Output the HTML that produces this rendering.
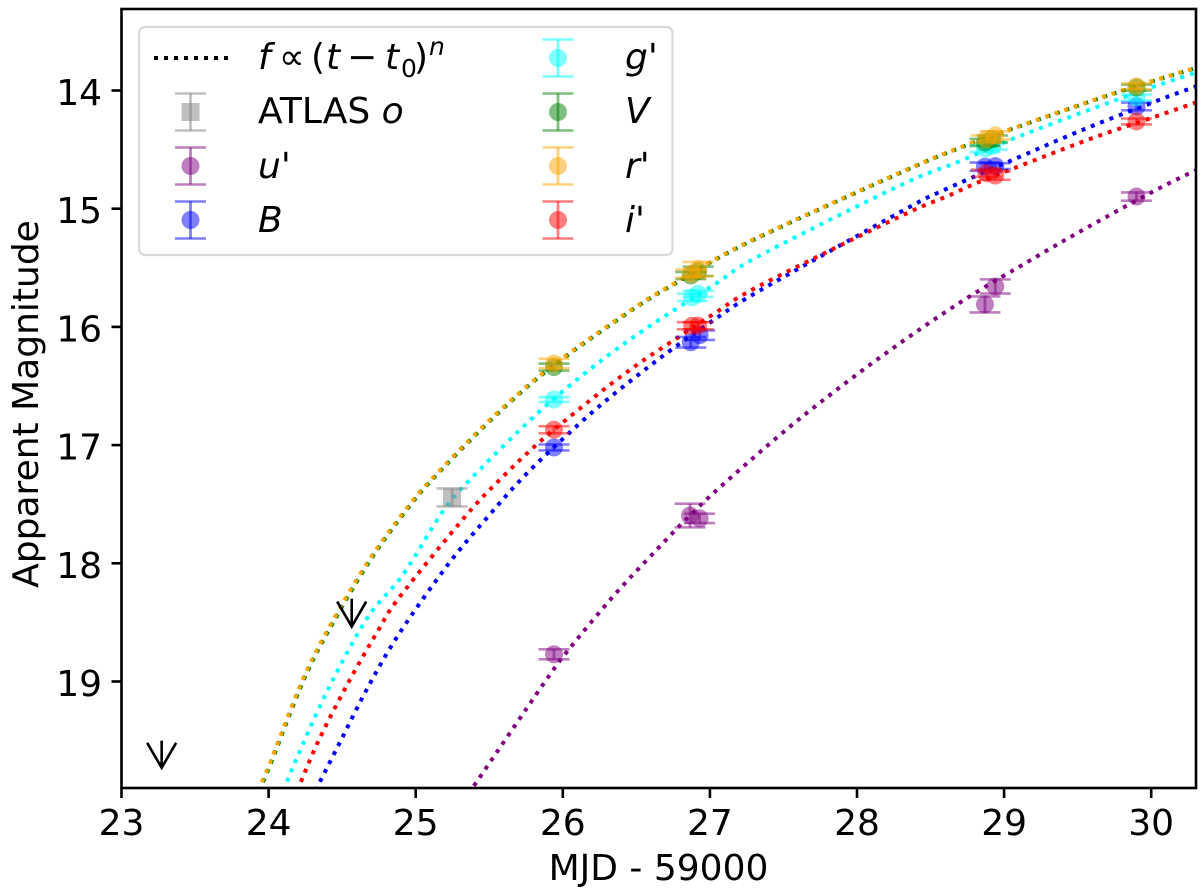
<!DOCTYPE html>
<html>
<head>
<meta charset="utf-8">
<title>Light curve</title>
<style>
html,body{margin:0;padding:0;background:#fff;}
svg{display:block;}
text{font-family:"DejaVu Sans","Liberation Sans",sans-serif;fill:#000;}
</style>
</head>
<body>
<svg id="chart" xmlns="http://www.w3.org/2000/svg" width="1200" height="893" viewBox="0 0 1200 893">
  <defs><clipPath id="plot-clip"><rect x="121.5" y="9" width="1074.5" height="779"/></clipPath></defs>
  <rect x="0" y="0" width="1200" height="893" fill="#fff"/>
  <g id="curves" clip-path="url(#plot-clip)"></g>
  <g id="points"></g>
  <g id="limits"></g>
  <g id="ticks"></g>
  <rect x="121.5" y="9" width="1074.5" height="779" fill="none" stroke="#000" stroke-width="2.6"/>
  <text x="658.5" y="880" font-size="36" text-anchor="middle">MJD - 59000</text>
  <text transform="translate(38,404) rotate(-90)" font-size="36" text-anchor="middle">Apparent Magnitude</text>
  <g>
    <rect x="139" y="27" width="533.5" height="228" rx="6" ry="6" fill="#fff" fill-opacity="0.8" stroke="#d9d9d9" stroke-width="2.2"/>
    <g id="legend-handles"></g>
    <text y="69" font-size="36"><tspan x="258" font-style="italic">f</tspan><tspan x="279">∝</tspan><tspan x="311">(</tspan><tspan x="326" font-style="italic">t</tspan><tspan x="347">−</tspan><tspan x="385" font-style="italic">t</tspan><tspan x="401" y="77" font-size="25">0</tspan><tspan x="414" y="69">)</tspan><tspan x="429" y="55" font-size="25" font-style="italic">n</tspan></text>
    <text x="258" y="123" font-size="36">ATLAS <tspan font-style="italic">o</tspan></text>
    <text x="258" y="178" font-size="36" font-style="italic">u'</text>
    <text x="258" y="232" font-size="36" font-style="italic">B</text>
    <text x="625" y="69" font-size="36" font-style="italic">g'</text>
    <text x="625" y="123" font-size="36" font-style="italic">V</text>
    <text x="625" y="178" font-size="36" font-style="italic">r'</text>
    <text x="625" y="232" font-size="36" font-style="italic">i'</text>
  </g>
</svg>
<script>
// Tick labels
const xTicks = [23, 24, 25, 26, 27, 28, 29, 30];
const yTicks = [14, 15, 16, 17, 18, 19];

// Fit curves (MJD-59000, magnitude)
const fitUT = [25.32, 25.383, 25.866, 26.035, 26.348, 26.640, 26.885, 27.150, 27.612, 28.156, 28.70, 29.210, 29.577, 30.012, 30.271, 30.35];
const fitUM = [20.0, 19.905, 19.025, 18.738, 18.272, 17.883, 17.570, 17.266, 16.775, 16.259, 15.794, 15.413, 15.151, 14.855, 14.694, 14.65];
const fitBT = [24.29, 24.326, 24.485, 24.678, 24.893, 25.220, 25.492, 25.729, 25.981, 26.246, 26.525, 26.749, 27.041, 27.340, 28.326, 28.585, 29.033, 29.557, 30.080, 30.284, 30.35];
const fitBM = [20.0, 19.905, 19.514, 19.042, 18.585, 18.010, 17.604, 17.274, 16.970, 16.673, 16.394, 16.183, 15.929, 15.692, 15.007, 14.846, 14.601, 14.321, 14.068, 13.975, 13.945];
const fitGT = [24.07, 24.108, 24.191, 24.395, 24.667, 24.914, 25.199, 25.437, 25.790, 26.056, 26.334, 26.627, 27.041, 27.340, 28.292, 28.693, 29.081, 29.808, 30.284, 30.35];
const fitGM = [20.0, 19.897, 19.65, 19.09, 18.47, 18.095, 17.536, 17.206, 16.775, 16.487, 16.217, 15.963, 15.633, 15.396, 14.804, 14.601, 14.398, 14.059, 13.856, 13.83];
const fitVT = [23.90, 23.945, 24.005, 24.240, 24.435, 24.685, 24.935, 25.119, 25.465, 25.778, 26.057, 26.288, 26.526, 26.764, 27.260, 28.300, 28.688, 29.082, 29.748, 30.292, 30.36];
const fitVM = [20.0, 19.888, 19.725, 18.983, 18.509, 17.985, 17.553, 17.283, 16.843, 16.487, 16.217, 16.014, 15.811, 15.633, 15.286, 14.694, 14.491, 14.313, 14.025, 13.814, 13.79];
const fitRT = [23.89, 23.935, 23.998, 24.232, 24.426, 24.676, 24.927, 25.111, 25.457, 25.770, 26.049, 26.280, 26.518, 26.756, 27.252, 28.292, 28.680, 29.074, 29.740, 30.284, 30.35];
const fitRM = [20.0, 19.888, 19.725, 18.983, 18.509, 17.985, 17.553, 17.283, 16.843, 16.487, 16.217, 16.014, 15.811, 15.633, 15.286, 14.694, 14.491, 14.313, 14.025, 13.814, 13.79];
const fitIT = [24.16, 24.2, 24.338, 24.531, 24.742, 24.893, 25.342, 25.587, 25.845, 26.117, 26.341, 26.566, 26.804, 27.041, 27.340, 28.292, 28.625, 28.822, 29.149, 29.611, 30.012, 30.284, 30.35];
const fitIM = [20.0, 19.905, 19.505, 19.034, 18.574, 18.281, 17.596, 17.274, 16.970, 16.690, 16.470, 16.267, 16.073, 15.878, 15.650, 15.066, 14.888, 14.778, 14.618, 14.398, 14.228, 14.110, 14.08];

// Photometry: epoch, magnitude, magnitude error
const atlasT = [25.247];
const atlasM = [17.443];
const atlasE = [0.076];
const uT = [25.94, 26.865, 26.93, 28.87, 28.94, 29.90];
const uM = [18.77, 17.596, 17.62, 15.81, 15.658, 14.897];
const uE = [0.042, 0.10, 0.04, 0.068, 0.06, 0.035];
const bT = [25.94, 26.87, 26.93, 28.87, 28.94, 29.90];
const bM = [17.02, 16.13, 16.07, 14.645, 14.64, 14.135];
const bE = [0.025, 0.045, 0.04, 0.035, 0.025, 0.033];
const gT = [25.94, 26.88, 26.92, 28.87, 28.92, 29.90];
const gM = [16.615, 15.75, 15.72, 14.49, 14.47, 14.06];
const gE = [0.02, 0.03, 0.025, 0.03, 0.03, 0.025];
const vT = [25.94, 26.87, 26.92, 28.87, 28.92, 29.90];
const vM = [16.34, 15.565, 15.53, 14.44, 14.41, 13.975];
const vE = [0.03, 0.03, 0.04, 0.03, 0.03, 0.025];
const rT = [25.94, 26.87, 26.92, 28.88, 28.94, 29.90];
const rM = [16.31, 15.55, 15.51, 14.41, 14.38, 13.965];
const rE = [0.04, 0.035, 0.06, 0.03, 0.035, 0.025];
const iT = [25.94, 26.88, 26.92, 28.88, 28.94, 29.90];
const iM = [16.87, 15.99, 15.99, 14.70, 14.72, 14.262];
const iE = [0.03, 0.03, 0.03, 0.03, 0.035, 0.025];

// Upper limits: epoch, tip magnitude, arrow length in magnitudes
const limitT = [23.273, 24.565];
const limitM = [19.73, 18.535];
const limitLen = [0.23, 0.235];

const NS = 'http://www.w3.org/2000/svg';
const LEFT = 121.5, X_SCALE = 147.1, Y14 = 90.5, Y_SCALE = 118.2;
function xAxis(t){ return LEFT + (t - 23) * X_SCALE; }
function yAxis(m){ return Y14 + (m - 14) * Y_SCALE; }

function make(tag, attrs, parent){
  const el = document.createElementNS(NS, tag);
  for (const k in attrs) el.setAttribute(k, attrs[k]);
  parent.appendChild(el);
  return el;
}

// Smooth path through read points
function smoothPath(ts, ms){
  const px = ts.map(xAxis), py = ms.map(yAxis);
  let d = 'M' + px[0].toFixed(2) + ' ' + py[0].toFixed(2);
  for (let i = 0; i < px.length - 1; i++){
    const a = Math.max(i - 1, 0), b = Math.min(i + 2, px.length - 1);
    const c1x = px[i] + (px[i+1] - px[a]) / 6, c1y = py[i] + (py[i+1] - py[a]) / 6;
    const c2x = px[i+1] - (px[b] - px[i]) / 6, c2y = py[i+1] - (py[b] - py[i]) / 6;
    d += 'C' + c1x.toFixed(2) + ' ' + c1y.toFixed(2) + ' ' + c2x.toFixed(2) + ' ' + c2y.toFixed(2) + ' ' + px[i+1].toFixed(2) + ' ' + py[i+1].toFixed(2);
  }
  return d;
}

const curvesG = document.getElementById('curves');
function drawCurve(name, ts, ms, color){
  const el = make('path', {d: smoothPath(ts, ms), fill: 'none', stroke: color, 'stroke-width': 4, 'stroke-dasharray': '4 6'}, curvesG);
  
  
}
drawCurve('fit-curve-u', fitUT, fitUM, '#800080');
drawCurve('fit-curve-b', fitBT, fitBM, '#0000ff');
drawCurve('fit-curve-g', fitGT, fitGM, '#00ffff');
drawCurve('fit-curve-v', fitVT, fitVM, '#008000');
drawCurve('fit-curve-r', fitRT, fitRM, '#ffa500');
drawCurve('fit-curve-i', fitIT, fitIM, '#ff0000');

function drawErrorMark(parent, cx, cy, up, down, color, square){
  make('line', {x1: cx, x2: cx, y1: cy - up, y2: cy + down, stroke: color, 'stroke-width': 2.8, opacity: 0.5}, parent);
  make('line', {x1: cx - 15.5, x2: cx + 15.5, y1: cy - up, y2: cy - up, stroke: color, 'stroke-width': 2.6, opacity: 0.5}, parent);
  make('line', {x1: cx - 15.5, x2: cx + 15.5, y1: cy + down, y2: cy + down, stroke: color, 'stroke-width': 2.6, opacity: 0.5}, parent);
  if (square) make('rect', {x: cx - 9, y: cy - 9, width: 18, height: 18, fill: color, opacity: 0.5}, parent);
  else make('circle', {cx: cx, cy: cy, r: 9, fill: color, opacity: 0.5}, parent);
}

const pointsG = document.getElementById('points');
function drawSeries(name, ts, ms, es, color, square){
  const group = make('g', {}, pointsG);
  
  
  ts.forEach(function(t, i){
    const mark = make('g', {}, group);
    
    
    const half = es[i] * Y_SCALE;
    drawErrorMark(mark, xAxis(t), yAxis(ms[i]), half, half, color, square);
  });
}
drawSeries('series-atlas-o', atlasT, atlasM, atlasE, '#808080', true);
drawSeries('series-u', uT, uM, uE, '#800080', false);
drawSeries('series-b', bT, bM, bE, '#0000ff', false);
drawSeries('series-g', gT, gM, gE, '#00ffff', false);
drawSeries('series-v', vT, vM, vE, '#008000', false);
drawSeries('series-r', rT, rM, rE, '#ffa500', false);
drawSeries('series-i', iT, iM, iE, '#ff0000', false);

const limitsG = document.getElementById('limits');
limitT.forEach(function(t, i){
  const x = xAxis(t), tip = yAxis(limitM[i]), top = yAxis(limitM[i] - limitLen[i]);
  const el = make('path', {
    d: 'M' + x + ' ' + top + 'L' + x + ' ' + tip + 'M' + (x - 14.5) + ' ' + (tip - 25) + 'L' + x + ' ' + tip + 'L' + (x + 14.5) + ' ' + (tip - 25),
    fill: 'none', stroke: '#000', 'stroke-width': 2.6
  }, limitsG);
  
  
});

const ticksG = document.getElementById('ticks');
xTicks.forEach(function(v){
  const x = xAxis(v);
  const mark = make('line', {x1: x, x2: x, y1: 788, y2: 798, stroke: '#000', 'stroke-width': 2.6}, ticksG);
  
  
  const label = make('text', {x: x, y: 835, 'font-size': 36, 'text-anchor': 'middle'}, ticksG);
  label.textContent = v;
  
  
});
yTicks.forEach(function(v){
  const y = yAxis(v);
  const mark = make('line', {x1: 111.5, x2: 121.5, y1: y, y2: y, stroke: '#000', 'stroke-width': 2.6}, ticksG);
  
  
  const label = make('text', {x: 102, y: y + 14.5, 'font-size': 36, 'text-anchor': 'end'}, ticksG);
  label.textContent = v;
  
  
});

const handles = document.getElementById('legend-handles');
const fitHandle = make('line', {x1: 154, x2: 228, y1: 58, y2: 58, stroke: '#000', 'stroke-width': 4, 'stroke-dasharray': '4 6'}, handles);


function legendHandle(name, cx, cy, color, square){
  const g = make('g', {}, handles);
  
  
  drawErrorMark(g, cx, cy, 18.5, 18.5, color, square);
}
legendHandle('legend-handle-atlas', 190.5, 112, '#808080', true);
legendHandle('legend-handle-u', 190.5, 166, '#800080', false);
legendHandle('legend-handle-b', 190.5, 220, '#0000ff', false);
legendHandle('legend-handle-g', 558, 58, '#00ffff', false);
legendHandle('legend-handle-v', 558, 112, '#008000', false);
legendHandle('legend-handle-r', 558, 166, '#ffa500', false);
legendHandle('legend-handle-i', 558, 220, '#ff0000', false);
</script>
</body>
</html>
